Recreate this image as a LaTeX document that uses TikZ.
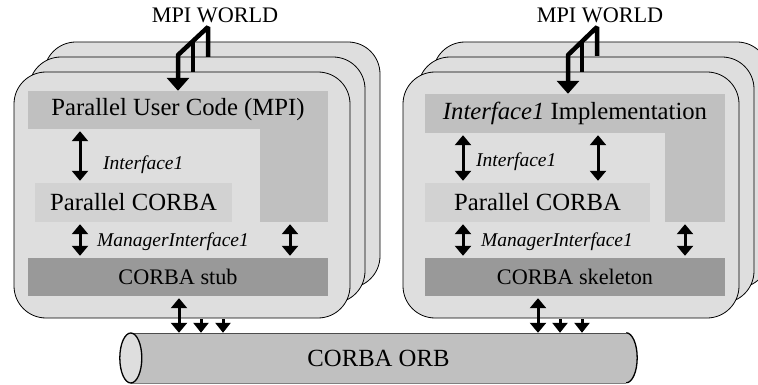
\documentclass[tikz,border=0pt]{standalone}
\usepackage{fontspec}
\setmainfont{Liberation Serif}
\usetikzlibrary{arrows.meta,positioning}
\definecolor{cardfill}{HTML}{DEDEDE}
\definecolor{usergray}{HTML}{C0C0C0}
\definecolor{pcgray}{HTML}{D2D2D2}
\definecolor{stubgray}{HTML}{999999}

\begin{document}
\begin{tikzpicture}[
                x=1pt,y=-1pt,
                card/.style={draw=black,line width=0.8pt,fill=cardfill,rounded corners=32pt,
                    minimum width=336pt,minimum height=246pt,inner sep=0pt},
                layer/.style={inner sep=0pt,font=\fontsize{24.7}{28}\selectfont},
                base/.style={inner sep=0pt,fill=stubgray,minimum width=300pt,minimum height=38pt,
                    font=\fontsize{22.2}{26}\selectfont},
                lbl/.style={anchor=base west,inner sep=0pt,font=\itshape\fontsize{19.5}{22}\selectfont},
                world/.style={anchor=base,inner sep=0pt,font=\fontsize{22.2}{26}\selectfont},
                dbl/.style={{Triangle[width=16pt,length=10pt]}-{Triangle[width=16pt,length=10pt]},
                    line width=3pt,shorten <=2pt,shorten >=2pt},
                sgl/.style={-{Triangle[width=15pt,length=10pt]},line width=3pt},
                mpi/.style={-{Triangle[width=22pt,length=13pt]},line width=4.5pt,line join=bevel},
                mpibar/.style={line width=4.5pt},
                capline/.style={line width=1.3pt}
            ]
                \clip (0,0) rectangle (758,385);

                % left stack
                \node[card] (cardL3) at (212,165) {};
                \node[card] (cardL2) at (197,180) {};
                \node[card] (cardL)  at (182,195) {};
                % right stack
                \node[card] (cardR3) at (601,165) {};
                \node[card] (cardR2) at (586,180) {};
                \node[card] (cardR)  at (571,195) {};

                % left process
                \node[layer,fill=usergray,minimum width=300pt,minimum height=38pt] (ucode) at (178,110) {Parallel User Code (MPI)};
                \node[fill=usergray,inner sep=0pt,minimum width=68pt,minimum height=93pt] (ucol) at (294,175.5) {};
                \node[layer,fill=pcgray,minimum width=197pt,minimum height=39pt] (pcorbaL) at (133.5,202.5) {Parallel CORBA};
                \node[base] (stub) at (178,277) {CORBA stub};
                \node[lbl] (ifL)  at (103,170) {Interface1};
                \node[lbl] (mifL) at (97,246) {ManagerInterface1};

                % right process
                \node[layer,fill=usergray,minimum width=300pt,minimum height=39pt] (impl) at (575,113.5) {\textit{Interface1} Implementation};
                \node[fill=usergray,inner sep=0pt,minimum width=60pt,minimum height=89pt] (icol) at (695,177.5) {};
                \node[layer,fill=pcgray,minimum width=225pt,minimum height=39pt] (pcorbaR) at (537.5,202.5) {Parallel CORBA};
                \node[base] (skel) at (575,277) {CORBA skeleton};
                \node[lbl] (ifR)  at (476,167) {Interface1};
                \node[lbl] (mifR) at (481,246) {ManagerInterface1};

                \coordinate (xl1) at (80,0);
                \coordinate (xl2) at (290,0);
                \coordinate (xr1) at (463,0);
                \coordinate (xr2) at (598,0);
                \coordinate (xr3) at (685,0);

                \draw[dbl] (xl1 |- ucode.south)   -- (xl1 |- pcorbaL.north);
                \draw[dbl] (xl1 |- pcorbaL.south) -- (xl1 |- stub.north);
                \draw[dbl] (xl2 |- ucol.south)    -- (xl2 |- stub.north);

                \draw[dbl] (xr1 |- impl.south)    -- (xr1 |- pcorbaR.north);
                \draw[dbl] (xr2 |- impl.south)    -- (xr2 |- pcorbaR.north);
                \draw[dbl] (xr1 |- pcorbaR.south) -- (xr1 |- skel.north);
                \draw[dbl] (xr3 |- icol.south)    -- (xr3 |- skel.north);

                % MPI world links
                \node[world] (mwL) at (215,23) {MPI WORLD};
                \node[world] (mwR) at (600,23) {MPI WORLD};

                \coordinate (ml1) at (208,57);
                \coordinate (ml2) at (208,27);
                \coordinate (ml3) at (178,55);
                \draw[mpi] (ml1) -- (ml2) -- (ml3) -- (ml3 |- ucode.north);
                \draw[mpibar] (193,41) -- (193,72);

                \coordinate (mr1) at (597,56);
                \coordinate (mr2) at (597,27);
                \coordinate (mr3) at (568,55);
                \draw[mpi] (mr1) -- (mr2) -- (mr3) -- (mr3 |- impl.north);
                \draw[mpibar] (582,41) -- (582,72);

                % ORB
                \node[fill=usergray,inner sep=0pt,minimum width=495pt,minimum height=50pt,
                      font=\fontsize{24.7}{28}\selectfont] (orb) at (378.5,358) {CORBA ORB};
                \fill[usergray] (orb.north east) arc[start angle=90,end angle=-90,x radius=11pt,y radius=25pt];
                \draw[capline] (orb.north east) arc[start angle=90,end angle=-90,x radius=11pt,y radius=25pt];
                \draw[gray!60!black,line width=0.6pt] (orb.north west) -- (orb.north east);
                \draw[gray,line width=0.6pt] (orb.south west) -- (orb.south east);
                \draw[capline,fill=cardfill] (orb.west) ellipse[x radius=11pt,y radius=25pt];

                \coordinate (bl1) at (179,0);
                \coordinate (bl2) at (201,0);
                \coordinate (bl3) at (223,0);
                \coordinate (br1) at (538,0);
                \coordinate (br2) at (560,0);
                \coordinate (br3) at (582,0);

                \begin{scope}[shorten <=1pt]
                    \draw[dbl,shorten >=0pt] (bl1 |- stub.south)  -- (bl1 |- orb.north);
                    \draw[sgl] (bl2 |- cardL.south) -- (bl2 |- orb.north);
                    \draw[sgl] (bl3 |- cardL.south) -- (bl3 |- orb.north);
                    \draw[dbl,shorten >=0pt] (br1 |- skel.south)   -- (br1 |- orb.north);
                    \draw[sgl] (br2 |- cardR.south) -- (br2 |- orb.north);
                    \draw[sgl] (br3 |- cardR.south) -- (br3 |- orb.north);
                \end{scope}
            \end{tikzpicture}
\end{document}
